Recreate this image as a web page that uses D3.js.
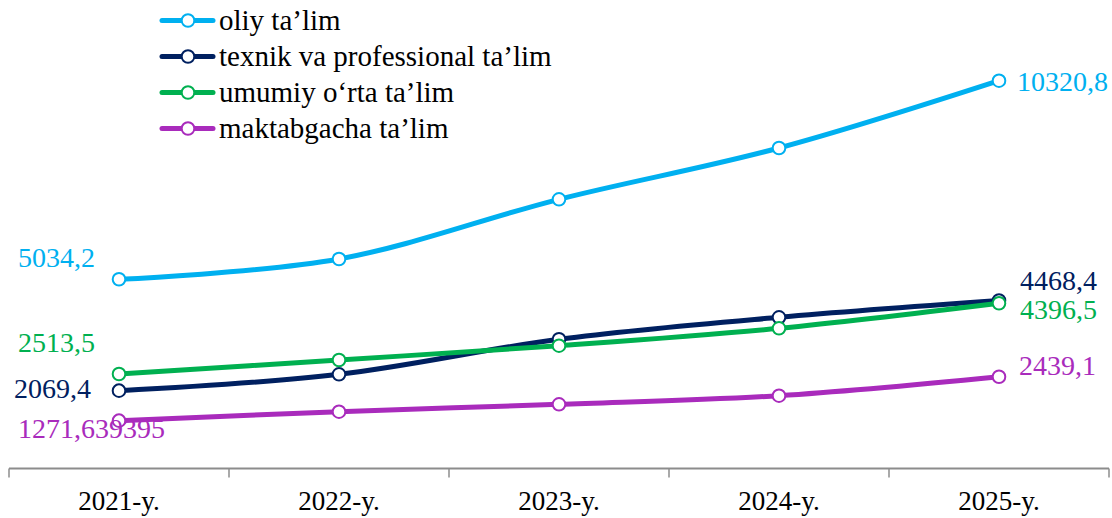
<!DOCTYPE html>
<html>
<head>
<meta charset="utf-8">
<script src="https://cdn.jsdelivr.net/npm/d3@7"></script>
<style>
  html, body { margin: 0; padding: 0; background: #fff; }
  svg { display: block; font-family: "Liberation Serif", "Times New Roman", serif; }
</style>
</head>
<body>
<svg id="chart" width="1112" height="518"></svg>
<script>
// ---- data ----
const categories = ["2021-y.", "2022-y.", "2023-y.", "2024-y.", "2025-y."];
const seriesNames = ["oliy ta’lim", "texnik va professional ta’lim", "umumiy o‘rta ta’lim", "maktabgacha ta’lim"];
const oliy = [5034.2, 5574, 7163, 8529, 10320.8];
const texnik = [2069.4, 2505, 3437, 4022, 4468.4];
const umumiy = [2513.5, 2886, 3266, 3729, 4396.5];
const maktabgacha = [1271.639395, 1509, 1706, 1935, 2439.1];
const firstLabels = ["5034,2", "2069,4", "2513,5", "1271,639395"];
const lastLabels = ["10320,8", "4468,4", "4396,5", "2439,1"];

// ---- styles ----
const colors = ["#00B0F0", "#002060", "#00B050", "#A92BBC"];
const firstLabelOffset = [[-101, -12], [-105, 7], [-101, -22], [-101, 17]];
const lastLabelOffset = [[18, 10], [21, -11], [21, 16], [20, -2]];

const values = [oliy, texnik, umumiy, maktabgacha];

const svg = d3.select("#chart");
const x = d3.scaleBand().domain(categories).range([9, 1109]);
const y = d3.scaleLinear().domain([0, 12000]).range([468.4, 468.4 - 12000 * 0.037567]);
const cx = c => x(c) + x.bandwidth() / 2;

// x axis
const axisG = svg.append("g");
axisG.append("line")
  .attr("x1", x.range()[0]).attr("x2", x.range()[1])
  .attr("y1", y(0)).attr("y2", y(0))
  .attr("stroke", "#8c8c8c").attr("stroke-width", 2);
const tickPos = categories.map(c => x(c)).concat([x.range()[1]]);
axisG.selectAll("line.tick").data(tickPos).enter().append("line")
  .attr("class", "tick")
  .attr("x1", d => d).attr("x2", d => d)
  .attr("y1", y(0)).attr("y2", y(0) + 9)
  .attr("stroke", "#8c8c8c").attr("stroke-width", 1.5);
axisG.selectAll("text").data(categories).enter().append("text")
  .attr("x", d => cx(d)).attr("y", 510)
  .attr("text-anchor", "middle")
  .attr("font-size", 27).attr("fill", "#000")
  .text(d => d);

const line = d3.line()
  .x((d, i) => cx(categories[i]))
  .y(d => y(d))
  .curve(d3.curveCardinal.tension(0));

// draw series in order
values.forEach((vals, s) => {
  const g = svg.append("g");
  g.append("path")
    .attr("d", line(vals))
    .attr("fill", "none")
    .attr("stroke", colors[s])
    .attr("stroke-width", 5)
    .attr("stroke-linecap", "round");
  g.selectAll("circle").data(vals).enter().append("circle")
    .attr("cx", (d, i) => cx(categories[i]))
    .attr("cy", d => y(d))
    .attr("r", 6.3)
    .attr("fill", "#fff")
    .attr("stroke", colors[s])
    .attr("stroke-width", 2);
});

// labels
values.forEach((vals, s) => {
  svg.append("text")
    .attr("x", cx(categories[0]) + firstLabelOffset[s][0])
    .attr("y", y(vals[0]) + firstLabelOffset[s][1])
    .attr("font-size", 28).attr("fill", colors[s])
    .text(firstLabels[s]);
  const n = vals.length - 1;
  svg.append("text")
    .attr("x", cx(categories[n]) + lastLabelOffset[s][0])
    .attr("y", y(vals[n]) + lastLabelOffset[s][1])
    .attr("font-size", 28).attr("fill", colors[s])
    .text(lastLabels[s]);
});

// legend
const legend = svg.append("g");
seriesNames.forEach((name, s) => {
  const ly = 20.5 + s * 36;
  legend.append("line")
    .attr("x1", 162).attr("x2", 213).attr("y1", ly).attr("y2", ly)
    .attr("stroke", colors[s]).attr("stroke-width", 5).attr("stroke-linecap", "round");
  legend.append("circle")
    .attr("cx", 188).attr("cy", ly).attr("r", 6.3)
    .attr("fill", "#fff").attr("stroke", colors[s]).attr("stroke-width", 2);
  legend.append("text")
    .attr("x", 219).attr("y", ly + 9.5)
    .attr("font-size", 29).attr("fill", "#000")
    .text(name);
});
</script>
</body>
</html>
